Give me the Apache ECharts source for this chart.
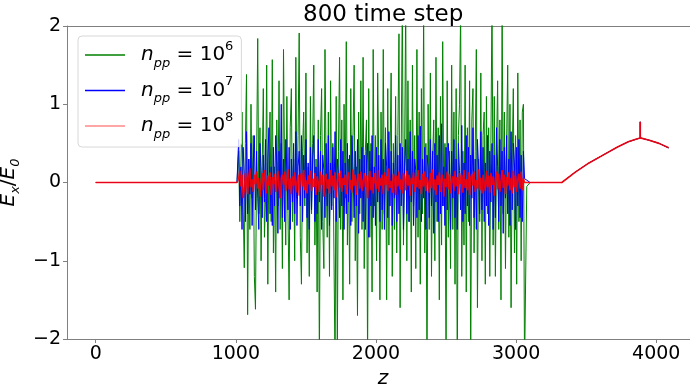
<!DOCTYPE html>
<html><head><meta charset="utf-8">
<script src="https://cdn.jsdelivr.net/npm/echarts@6/dist/echarts.min.js"></script>
<style>html,body{margin:0;padding:0;background:#fff}#c{width:690px;height:387px}</style>
</head><body><div id="c"></div>
<script>
// ---- data ----
const seriesNames = ['n6', 'n7', 'n8'];
const legendExponents = ['6', '7', '8'];
const headZ = [0, 1008];
const headV = [0, 0];
const noiseZStart = 1020;   // first sample of the noisy region
const noiseZStep = 8;       // sampling step of the noisy region
const greenNoise = [
  0.4, -0.5, 0.2, 0.9, -0.3, -1.09, 0.5, 1.38, -1.69, 0.3, -0.6, 1.0, -0.2, 0.6, -1.2, -1.62,
  0.3, 1.84, -0.4, 0.7, -1.0, 0.2, 1.2, -0.7, -0.2, 1.5, -1.3, 0.4, 0.9, -0.5, 1.57, -0.9,
  0.2, -1.4, 0.8, -0.3, 1.3, -0.6, 0.5, -1.1, 1.7, 0.1, -0.8, 1.1, -0.4, -1.5, 0.7, 1.2,
  -0.5, 0.3, -1.0, 1.6, -0.2, 0.6, 1.91, -0.7, -1.3, 0.4, 0.9, -0.3, 1.4, -0.9, 0.2, -1.2,
  1.1, -0.4, 0.5, 1.5, -0.8, 0.3, -1.4, 0.8, -2.3, 0.6, 1.2, -0.5, -1.1, 1.7, 0.2, -0.7,
  0.9, -1.2, 1.3, -0.3, 0.5, -0.9, -2.4, 1.1, -2.2, 0.4, 1.6, -0.6, 0.8, -1.5, 1.0, -0.2,
  1.8, -0.8, 0.3, -1.3, 1.2, -0.5, 0.6, 1.5, -1.0, 0.2, -1.7, 0.9, -0.4, 1.3, -0.6, 1.6,
  -1.1, 0.4, 0.8, -2.3, 1.2, -0.7, 0.5, -1.4, 1.7, -0.3, 0.6, -1.0, 1.4, 0.2, -1.5, 0.9,
  -0.6, 1.7, -0.4, 0.7, -1.5, 1.2, -0.8, 0.3, 1.4, -1.2, 0.5, -0.6, 1.1, -0.9, 0.6, 1.9,
  -1.6, 0.4, 2.4, -0.8, 0.3, 2.3, -1.0, 1.3, -0.5, 0.8, -1.4, 1.5, -0.3, 0.6, -1.1, 1.7,
  -0.7, 0.9, -1.3, 1.2, -0.4, 2.2, -0.9, 0.5, -2.4, 1.0, -0.6, 1.4, -1.2, 0.3, 0.8, -1.0,
  1.6, -0.5, 0.7, -1.5, 1.1, -0.8, 1.8, -0.3, 0.5, -2.3, 1.3, -0.7, 0.4, -1.1, 1.5, -0.6,
  0.9, -1.3, 1.2, -2.4, 0.6, 1.0, 2.2, -1.2, 0.4, -0.8, 1.5, -1.4, 0.7, -0.5, 1.3, -2.3,
  0.8, 1.2, -0.9, 0.4, 1.7, -1.6, 0.3, -0.5, 1.4, -1.0, 0.6, 0.9, -1.3, 1.1, -0.4, 0.7,
  -1.2, 0.5, 2.4, -0.8, 1.1, -1.2, 0.4, 1.3, -0.6, 0.8, -1.5, 2.3, -0.4, 0.9, -1.1, 0.5,
  1.5, -0.7, 1.0, -1.6, 0.3, 1.2, -0.9, 0.6, -1.3, 1.4, -0.5, 0.8, -1.0, 0.9, 1.0, -2.4
];
const blueNoise = [
  0.55, -0.3, 0.2, -0.6, 0.45, 0.1, -0.5, 0.65, -0.4, 0.3, -0.15, 0.5, -0.55, 0.25, 0.6, -0.35,
  0.4, -0.2, -0.6, 0.5, 0.15, -0.45, 0.35, -0.25, 0.55, -0.5, 0.3, 0.7, -0.4, 0.2, -0.55, 0.45,
  -0.3, 0.6, 0.25, -0.65, 0.4, -0.2, 1.0, -0.45, 0.3, -0.5, 0.55, 0.15, -0.35, 0.45, -0.6, 0.3,
  -0.25, 0.5, -0.4, 0.65, -0.55, 0.2, 0.4, -0.3, 0.6, -0.5, 0.35, -0.2, 0.55, -0.45, 0.25, -0.6,
  0.45, -0.35, 0.3, 0.6, -0.5, 0.2, -0.4, 0.55, -0.25, 0.4, -0.6, 0.35, 0.15, -0.45, 0.5, -0.3,
  0.6, -0.55, 0.25, -0.35, 0.45, -0.2, 0.65, -0.5, 0.3, 0.1, -0.45, 0.55, -0.3, 0.4, -0.6, 0.25,
  -0.4, 0.5, -0.25, 0.35, -0.55, 0.6, 0.2, -0.45, 0.4, -0.3, 0.55, -0.65, 0.3, -0.2, 0.45, -0.5,
  0.35, -0.6, 0.25, 0.5, -0.7, 0.4, -0.3, 0.6, -0.45, 0.2, -0.55, 0.45, -0.25, 0.35, -0.5, 0.55,
  -0.35, 0.3, -0.6, 0.5, 0.2, -0.45, 0.65, -0.3, 0.4, -0.55, 0.25, -0.2, 0.6, -0.5, 0.35, -0.4,
  0.5, -0.3, 0.45, -0.6, 0.2, 0.55, -0.4, 0.3, -0.5, 0.65, -0.25, 0.4, -0.55, 0.3, 0.15, -0.45,
  0.6, -0.35, 0.72, -0.5, 0.3, -0.2, 0.45, -0.6, 0.35, 0.2, -0.45, 0.55, -0.3, 0.4, -0.65, 0.5,
  -0.25, 0.35, -0.5, 0.6, -0.4, 0.75, -0.3, 0.2, -0.55, 0.45, -0.35, 0.5, 0.25, -0.6, 0.4, -0.2,
  0.55, -0.45, 0.3, -0.6, 0.5, 0.15, -0.35, 0.73, -0.5, 0.25, -0.4, 0.6, -0.3, 0.45, -0.55, 0.35,
  -0.2, 0.7, -0.45, 0.3, -0.6, 0.55, 0.2, -0.4, 0.65, -0.35, 0.45, -0.5, 0.25, -0.3, 0.6, -0.55,
  0.4, -0.25, 0.5, -0.6, 0.35, -0.45, 0.7, 0.2, -0.5, 0.55, -0.3, 0.4, -0.65, 0.45, -0.2, 0.6,
  -0.4, 0.3, -0.55, 0.65, -0.35, 0.5, 0.25, -0.6, 0.45, -0.3, 0.55, -0.45, 0.35, -0.5, 0.4, 0.05
];
const redNoise = [
  0.05, 0.15, -0.05, 0.1, -0.2, -0.1, 0.12, 0.02, -0.15, 0.08, 0.18, -0.06, 0.04, -0.12, 0.1, -0.02,
  0.14, -0.08, 0.06, -0.18, 0.0, 0.12, -0.1, 0.16, 0.03, -0.14, 0.09, -0.04, 0.13, -0.16, 0.07, -0.02,
  0.11, -0.12, 0.04, 0.15, -0.07, -0.2, 0.06, 0.1, -0.03, 0.14, -0.11, 0.02, 0.17, -0.09, 0.05, -0.15,
  0.08, -0.04, 0.13, -0.13, 0.01, 0.1, -0.17, 0.06, 0.12, -0.05, 0.16, -0.1, 0.03, -0.14, 0.09, -0.02,
  0.15, -0.11, 0.05, -0.06, 0.12, -0.16, 0.08, 0.0, -0.12, 0.14, -0.03, 0.1, -0.18, 0.07, 0.11, -0.08,
  0.04, -0.14, 0.16, -0.05, 0.09, -0.1, 0.13, -0.19, 0.02, 0.12, -0.07, 0.15, -0.12, 0.06, -0.03, 0.1,
  -0.15, 0.08, 0.13, -0.09, 0.03, -0.13, 0.17, -0.04, 0.1, -0.16, 0.05, 0.11, -0.08, 0.14, -0.11, 0.02,
  0.12, -0.06, 0.09, -0.2, 0.04, 0.15, -0.1, 0.07, -0.14, 0.12, 0.0, -0.08, 0.16, -0.12, 0.06, -0.04,
  0.1, -0.15, 0.13, -0.03, 0.08, -0.11, 0.18, -0.07, 0.02, -0.13, 0.11, 0.05, -0.16, 0.09, -0.05, 0.14,
  -0.09, 0.04, -0.14, 0.12, 0.07, -0.1, 0.15, -0.04, 0.1, -0.17, 0.06, -0.02, 0.13, -0.12, 0.08, -0.06,
  0.16, -0.08, 0.03, -0.15, 0.11, -0.05, 0.14, -0.11, 0.07, 0.01, -0.13, 0.12, -0.07, 0.17, -0.1, 0.04,
  -0.16, 0.09, -0.03, 0.13, -0.12, 0.06, 0.1, -0.18, 0.05, -0.06, 0.14, -0.09, 0.11, -0.14, 0.02, 0.08,
  -0.11, 0.15, -0.05, 0.07, -0.15, 0.12, -0.02, 0.1, -0.13, 0.16, -0.07, 0.04, -0.1, 0.13, -0.16, 0.06,
  0.11, -0.04, 0.14, -0.12, 0.03, -0.08, 0.17, -0.1, 0.06, -0.14, 0.1, 0.0, -0.11, 0.15, -0.06, 0.09,
  -0.13, 0.12, -0.03, 0.08, -0.17, 0.05, 0.14, -0.09, 0.11, -0.12, 0.02, 0.16, -0.07, 0.1, -0.15, 0.07,
  -0.04, 0.13, -0.1, 0.06, -0.14, 0.15, -0.06, 0.09, -0.12, 0.04, 0.11, -0.08, 0.14, -0.1, 0.05, 0.0
];
const greenExitZ = [3076];
const greenExitV = [-0.05];
const tailZ = [3100, 3326, 3420, 3520, 3620, 3720, 3800, 3860, 3886, 3886, 3886, 3950, 4020, 4088];
const tailV = [0, 0, 0.13, 0.25, 0.35, 0.45, 0.52, 0.555, 0.57, 0.775, 0.57, 0.54, 0.50, 0.443];
const xTickValues = [0, 1000, 2000, 3000, 4000];

// ---- build ----
function pairs(zs, vs) { return zs.map((z, i) => [z, vs[i]]); }
function noisePairs(vs) { return vs.map((v, i) => [noiseZStart + i * noiseZStep, v]); }
const greenData = [].concat(pairs(headZ, headV), noisePairs(greenNoise), pairs(greenExitZ, greenExitV), pairs(tailZ, tailV));
const blueData = [].concat(pairs(headZ, headV), noisePairs(blueNoise), pairs(tailZ, tailV));
const redData = [].concat(pairs(headZ, headV), noisePairs(redNoise), pairs(tailZ, tailV));

const FONT = 'DejaVu Sans';
const minus = s => String(s).replace('-', '\u2212');
const legendRich = {
  n: { fontFamily: FONT, fontStyle: 'italic', fontSize: 20, lineHeight: 30, color: '#000', padding: [0, 0, 0, 11] },
  p: { fontFamily: FONT, fontStyle: 'italic', fontSize: 13, lineHeight: 13, color: '#000', verticalAlign: 'bottom' },
  t: { fontFamily: FONT, fontSize: 20, lineHeight: 30, color: '#000' },
  s: { fontFamily: FONT, fontSize: 13, lineHeight: 13, color: '#000', verticalAlign: 'top' }
};
const chart = echarts.init(document.getElementById('c'), null, { renderer: 'canvas' });
const axisLineStyle = { color: '#808080', width: 1 };
chart.setOption({
  animation: false,
  backgroundColor: '#fff',
  title: {
    text: '800 time step', left: 298, top: -1,
    textStyle: { fontFamily: FONT, fontSize: 23, fontWeight: 'normal', color: '#000' }
  },
  grid: { left: 67, right: -9, top: 26, bottom: 48, containLabel: false, outerBoundsMode: 'none' },
  legend: {
    orient: 'vertical', left: 78, top: 36,
    icon: 'rect', itemWidth: 40, itemHeight: 1.5, itemGap: 5.5,
    padding: [4, 8, 6, 7],
    backgroundColor: 'rgba(255,255,255,0.8)', borderColor: '#d8d8d8', borderWidth: 1, borderRadius: 4,
    data: [
      { name: 'n6' }, { name: 'n7' },
      { name: 'n8', itemStyle: { color: '#ff8a8a' } }
    ],
    formatter: name => '{n|n}{p|pp}{t| = 10}{s|' + legendExponents[seriesNames.indexOf(name)] + '}',
    textStyle: { rich: legendRich }
  },
  xAxis: [{
    type: 'value', min: -205, max: 4305,
    splitLine: { show: false },
    axisLine: { onZero: false, lineStyle: axisLineStyle },
    axisTick: { show: true, length: 4, lineStyle: axisLineStyle, customValues: xTickValues },
    axisLabel: { customValues: xTickValues, fontFamily: FONT, fontSize: 19, color: '#000', margin: 6,
      formatter: v => (v % 1000 === 0 ? minus(v) : '') },
    name: 'z', nameLocation: 'middle', nameGap: 17,
    nameTextStyle: { fontFamily: FONT, fontStyle: 'italic', fontSize: 20, color: '#000' }
  }, {
    type: 'value', position: 'top', min: -205, max: 4305,
    axisLine: { show: true, onZero: false, lineStyle: axisLineStyle }, axisTick: { show: false }, axisLabel: { show: false }, splitLine: { show: false }
  }],
  yAxis: [{
    type: 'value', min: -2, max: 2, interval: 1,
    splitLine: { show: false },
    axisLine: { show: true, onZero: false, lineStyle: axisLineStyle },
    axisTick: { show: true, length: 4, lineStyle: axisLineStyle },
    axisLabel: { fontFamily: FONT, fontSize: 19, color: '#000', margin: 6, formatter: v => minus(v) },
    name: '{e|E}{s|x}{t|/}{e|E}{s|0}', nameLocation: 'middle', nameGap: 30, nameRotate: 90,
    nameTextStyle: { rich: {
      e: { fontFamily: FONT, fontStyle: 'italic', fontSize: 20, lineHeight: 26, color: '#000' },
      t: { fontFamily: FONT, fontSize: 20, lineHeight: 26, color: '#000' },
      s: { fontFamily: FONT, fontStyle: 'italic', fontSize: 13, lineHeight: 13, color: '#000', verticalAlign: 'bottom' }
    } }
  }, {
    type: 'value', position: 'right', min: -2, max: 2, interval: 1,
    axisLine: { show: true, onZero: false, lineStyle: axisLineStyle }, axisTick: { show: false }, axisLabel: { show: false }, splitLine: { show: false }
  }],
  series: [
    { name: 'n6', type: 'line', data: greenData, symbol: 'none', clip: true, color: '#008000', lineStyle: { width: 1, color: '#008000' } },
    { name: 'n7', type: 'line', data: blueData, symbol: 'none', clip: true, color: '#0000ff', lineStyle: { width: 1, color: '#0000ff' } },
    { name: 'n8', type: 'line', data: redData, symbol: 'none', clip: true, color: '#ff0000', lineStyle: { width: 1.6, color: '#ff0000', opacity: 0.9 } }
  ]
});
</script>
</body></html>
